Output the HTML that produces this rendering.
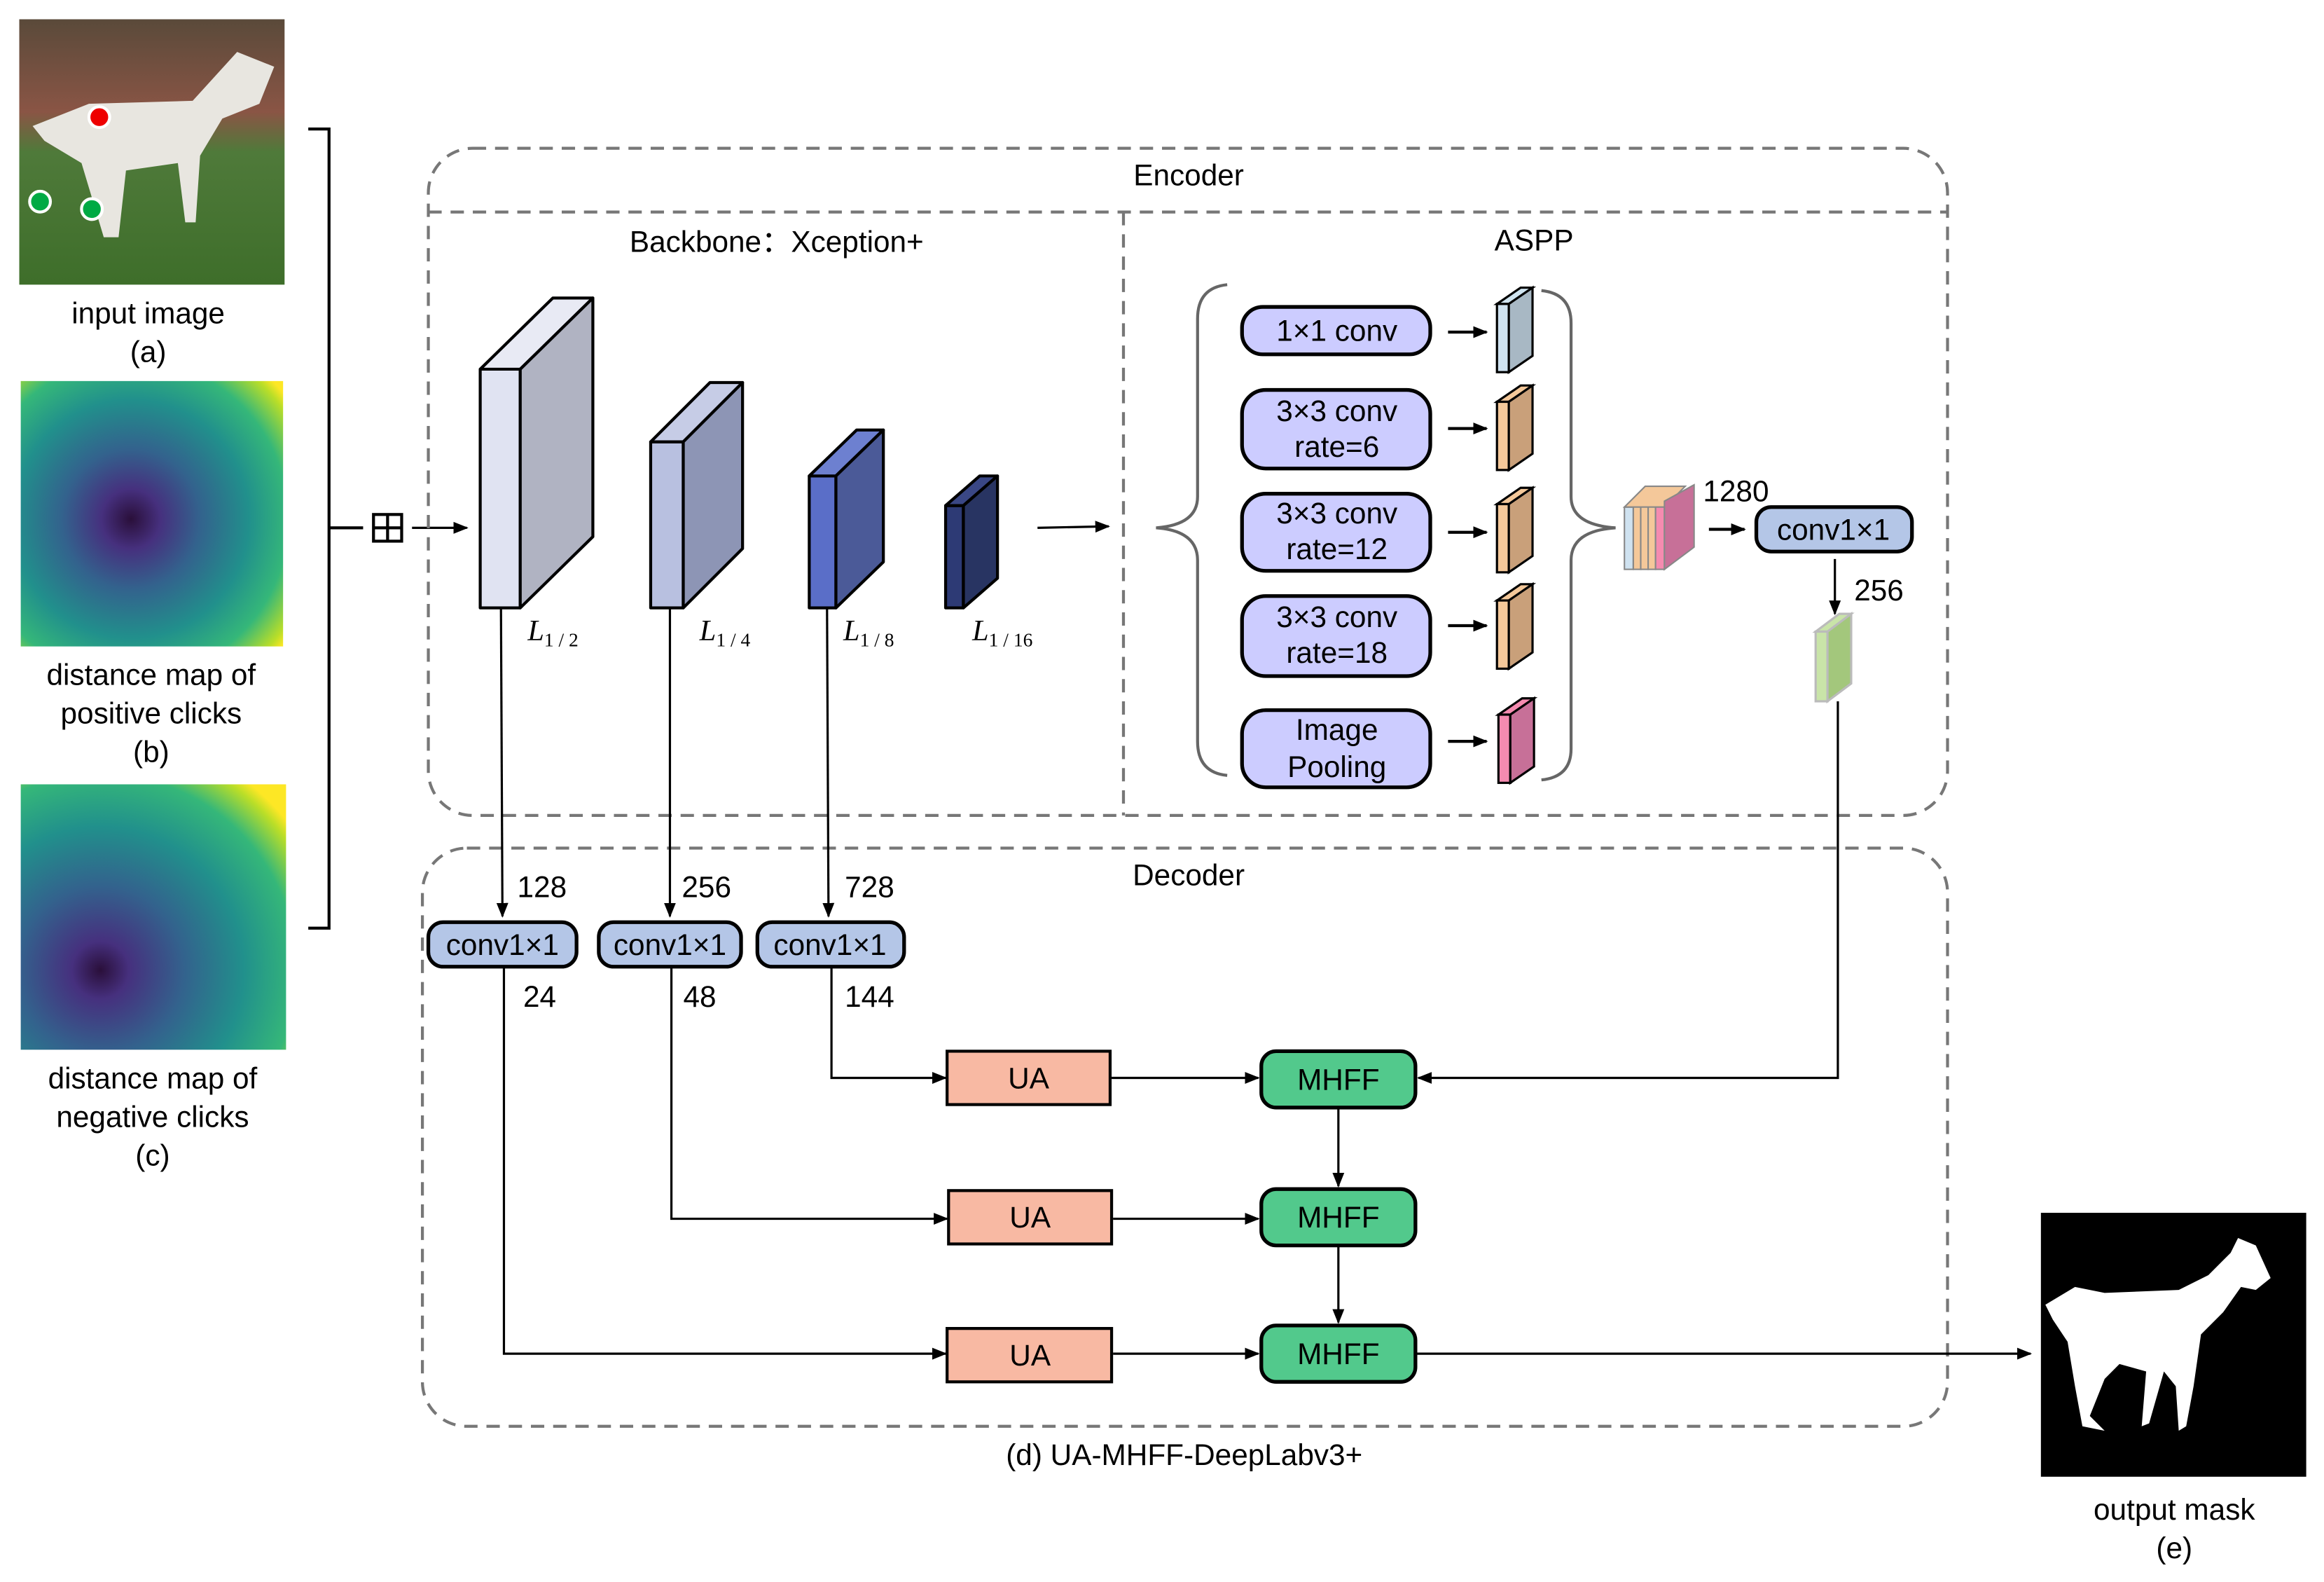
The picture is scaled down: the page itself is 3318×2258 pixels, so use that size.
<!DOCTYPE html>
<html><head><meta charset="utf-8"><style>html,body{margin:0;padding:0;background:#fff}svg{display:block}</style></head>
<body>
<svg xmlns="http://www.w3.org/2000/svg" width="3318" height="2258" viewBox="0 0 1568 1067" preserveAspectRatio="none" font-family="Liberation Sans, Arial, sans-serif" font-size="20">
<defs>
<marker id="ah" markerWidth="10" markerHeight="10" refX="9" refY="5" orient="auto" markerUnits="userSpaceOnUse"><path d="M0,1 L10,5 L0,9 z" fill="#000"/></marker>
<radialGradient id="vb" cx="0.42" cy="0.52" r="0.75">
<stop offset="0" stop-color="#2a0f3a"/><stop offset="0.15" stop-color="#46307e"/><stop offset="0.35" stop-color="#33628d"/><stop offset="0.6" stop-color="#21908c"/><stop offset="0.8" stop-color="#35b779"/><stop offset="0.95" stop-color="#bade28"/><stop offset="1" stop-color="#fde725"/></radialGradient>
<radialGradient id="vc" cx="0.3" cy="0.7" r="0.9">
<stop offset="0" stop-color="#2a0f3a"/><stop offset="0.12" stop-color="#46307e"/><stop offset="0.35" stop-color="#33628d"/><stop offset="0.6" stop-color="#21908c"/><stop offset="0.82" stop-color="#35b779"/><stop offset="0.95" stop-color="#bade28"/><stop offset="1" stop-color="#fde725"/></radialGradient>
<linearGradient id="ph" x1="0" y1="0" x2="0" y2="1"><stop offset="0" stop-color="#5a4a3a"/><stop offset="0.35" stop-color="#8a5545"/><stop offset="0.5" stop-color="#4f7a3a"/><stop offset="1" stop-color="#3e6e2a"/></linearGradient>
<clipPath id="cp"><rect x="13" y="13" width="179" height="179"/></clipPath>
</defs>
<!-- input image -->
<rect x="13" y="13" width="179" height="179" fill="url(#ph)"/>
<path clip-path="url(#cp)" d="M22,85 L60,70 L130,68 L160,35 L185,45 L175,70 L150,80 L135,105 L132,150 L125,150 L120,110 L85,115 L80,160 L70,160 L55,110 L30,95 Z" fill="#e8e6e0"/>
<circle cx="67" cy="79" r="7" fill="#e00" stroke="#fff" stroke-width="2"/>
<circle cx="27" cy="136" r="7" fill="#0a4" stroke="#fff" stroke-width="2"/>
<circle cx="62" cy="141" r="7" fill="#0a4" stroke="#fff" stroke-width="2"/>
<g text-anchor="middle">
<text x="100" y="218">input image</text><text x="100" y="244">(a)</text>
<rect x="14" y="257" width="177" height="179" fill="url(#vb)"/>
<text x="102" y="462">distance map of</text><text x="102" y="488">positive clicks</text><text x="102" y="514">(b)</text>
<rect x="14" y="529" width="179" height="179" fill="url(#vc)"/>
<text x="103" y="734">distance map of</text><text x="103" y="760">negative clicks</text><text x="103" y="786">(c)</text>
</g>
<!-- bracket -->
<path d="M208,87 H222 V626 H208 M222,356 H245" fill="none" stroke="#000" stroke-width="2"/>
<rect x="252" y="347" width="19" height="18" fill="none" stroke="#000" stroke-width="2"/>
<path d="M261.5,347 V365 M252,356 H271" stroke="#000" stroke-width="2"/>
<line x1="278" y1="356" x2="315" y2="356" stroke="#000" stroke-width="1.5" marker-end="url(#ah)"/>
<!-- encoder -->
<g fill="none" stroke="#777" stroke-width="2" stroke-dasharray="9,6">
<rect x="289" y="100" width="1025" height="450" rx="30"/>
<path d="M289,143 H1314 M758,143 V550"/>
<rect x="285" y="572" width="1029" height="390" rx="30"/>
</g>
<g text-anchor="middle">
<text x="802" y="125">Encoder</text>
<text x="524" y="170">Backbone：Xception+</text>
<text x="1035" y="169">ASPP</text>
<text x="802" y="597">Decoder</text>
<text x="799" y="988">(d) UA-MHFF-DeepLabv3+</text>
<text x="1467" y="1025">output mask</text><text x="1467" y="1051">(e)</text>
</g>
<!-- blocks -->
<g stroke="#000" stroke-width="2" stroke-linejoin="round">
<rect x="324" y="249" width="27" height="161" fill="#e0e3f2"/>
<path d="M324,249 L373,201 L400,201 L351,249 Z" fill="#e8eaf4"/>
<path d="M351,249 L400,201 L400,362 L351,410 Z" fill="#b0b3c2"/>
<rect x="439" y="298" width="22" height="112" fill="#b8c0e0"/>
<path d="M439,298 L479,258 L501,258 L461,298 Z" fill="#c6cce6"/>
<path d="M461,298 L501,258 L501,370 L461,410 Z" fill="#8d95b5"/>
<rect x="546" y="321" width="18" height="89" fill="#5a6ec8"/>
<path d="M546,321 L578,290 L596,290 L564,321 Z" fill="#6d80d0"/>
<path d="M564,321 L596,290 L596,379 L564,410 Z" fill="#4b5a98"/>
<rect x="638" y="341" width="12" height="69" fill="#2d3a75"/>
<path d="M638,341 L661,321 L673,321 L650,341 Z" fill="#3a4785"/>
<path d="M650,341 L673,321 L673,390 L650,410 Z" fill="#283462"/>
</g>
<g font-family="Liberation Serif, serif" font-style="italic" font-size="20">
<text x="356" y="432">L<tspan font-size="13" font-style="normal" dy="4">1 / 2</tspan></text>
<text x="472" y="432">L<tspan font-size="13" font-style="normal" dy="4">1 / 4</tspan></text>
<text x="569" y="432">L<tspan font-size="13" font-style="normal" dy="4">1 / 8</tspan></text>
<text x="656" y="432">L<tspan font-size="13" font-style="normal" dy="4">1 / 16</tspan></text>
</g>
<line x1="700" y1="356" x2="748" y2="355" stroke="#000" stroke-width="1.5" marker-end="url(#ah)"/>
<!-- braces -->
<path d="M828,192 Q808,194 808,215 V335 Q808,354 780,356 Q808,358 808,378 V500 Q808,521 828,523" fill="none" stroke="#666" stroke-width="2"/>
<path d="M1040,196 Q1060,198 1060,218 V335 Q1060,354 1090,356 Q1060,358 1060,378 V505 Q1060,524 1040,526" fill="none" stroke="#666" stroke-width="2"/>
<!-- ASPP boxes -->
<g fill="#ccccff" stroke="#000" stroke-width="2.5">
<rect x="838" y="207" width="127" height="32" rx="14"/>
<rect x="838" y="263" width="127" height="53" rx="16"/>
<rect x="838" y="333" width="127" height="52" rx="16"/>
<rect x="838" y="402" width="127" height="54" rx="16"/>
<rect x="838" y="479" width="127" height="52" rx="16"/>
</g>
<g text-anchor="middle">
<text x="902" y="230">1×1 conv</text>
<text x="902" y="284">3×3 conv</text><text x="902" y="308">rate=6</text>
<text x="902" y="353">3×3 conv</text><text x="902" y="377">rate=12</text>
<text x="902" y="423">3×3 conv</text><text x="902" y="447">rate=18</text>
<text x="902" y="499">Image</text><text x="902" y="524">Pooling</text>
</g>
<g stroke="#000" stroke-width="2" marker-end="url(#ah)">
<line x1="977" y1="224" x2="1003" y2="224"/>
<line x1="977" y1="289" x2="1003" y2="289"/>
<line x1="977" y1="359" x2="1003" y2="359"/>
<line x1="977" y1="422" x2="1003" y2="422"/>
<line x1="977" y1="500" x2="1003" y2="500"/>
<line x1="1153" y1="357" x2="1177" y2="357"/>
</g>
<!-- slabs -->
<g stroke="#000" stroke-width="1.5">
<path d="M1010,205 L1026,194 L1034,194 L1018,205 Z" fill="#d0e4f0"/><rect x="1010" y="205" width="8" height="46" fill="#cfe2f0"/><path d="M1018,205 L1034,194 L1034,240 L1018,251 Z" fill="#a8b8c4"/>
<path d="M1010,271 L1026,260 L1034,260 L1018,271 Z" fill="#f4c89a"/><rect x="1010" y="271" width="8" height="46" fill="#f4c89a"/><path d="M1018,271 L1034,260 L1034,306 L1018,317 Z" fill="#c9a07a"/>
<path d="M1010,340 L1026,329 L1034,329 L1018,340 Z" fill="#f4c89a"/><rect x="1010" y="340" width="8" height="46" fill="#f4c89a"/><path d="M1018,340 L1034,329 L1034,375 L1018,386 Z" fill="#c9a07a"/>
<path d="M1010,405 L1026,394 L1034,394 L1018,405 Z" fill="#f4c89a"/><rect x="1010" y="405" width="8" height="46" fill="#f4c89a"/><path d="M1018,405 L1034,394 L1034,440 L1018,451 Z" fill="#c9a07a"/>
<path d="M1011,482 L1027,471 L1035,471 L1019,482 Z" fill="#f58bb0"/><rect x="1011" y="482" width="8" height="46" fill="#f58bb0"/><path d="M1019,482 L1035,471 L1035,517 L1019,528 Z" fill="#c77098"/>
</g>
<g stroke="#888" stroke-width="1">
<rect x="1096" y="342" width="6" height="42" fill="#cfe2f0"/>
<rect x="1102" y="341" width="5" height="43" fill="#f4c89a"/>
<rect x="1107" y="340" width="5" height="44" fill="#f4c89a"/>
<rect x="1112" y="339" width="5" height="45" fill="#f4c89a"/>
<rect x="1117" y="338" width="6" height="46" fill="#f58bb0"/>
<path d="M1096,342 L1110,328 L1137,328 L1123,342 Z" fill="#f4c89a"/>
<path d="M1123,338 L1143,327 L1143,369 L1123,384 Z" fill="#c77098"/>
</g>
<text x="1149" y="338">1280</text>
<rect x="1185" y="342" width="105" height="30" rx="10" fill="#b4c6e7" stroke="#000" stroke-width="2.5"/>
<text x="1237" y="364" text-anchor="middle">conv1×1</text>
<line x1="1238" y1="377" x2="1238" y2="414" stroke="#000" stroke-width="1.5" marker-end="url(#ah)"/>
<text x="1251" y="405">256</text>
<g stroke="#bbb" stroke-width="1.5">
<path d="M1225,426 L1241,414 L1249,414 L1233,426 Z" fill="#c9e4a8"/><rect x="1225" y="426" width="8" height="47" fill="#c9e4a8"/><path d="M1233,426 L1249,414 L1249,461 L1233,473 Z" fill="#a3c77c"/>
</g>
<!-- decoder lines -->
<g fill="none" stroke="#000" stroke-width="1.5" marker-end="url(#ah)">
<line x1="338" y1="410" x2="339" y2="618"/>
<line x1="452" y1="410" x2="452" y2="618"/>
<line x1="558" y1="410" x2="559" y2="618"/>
<path d="M1240,473 V727 H957"/>
<path d="M340,652 V913 H638"/>
<path d="M453,652 V822 H639"/>
<path d="M561,652 V727 H638"/>
<line x1="750" y1="727" x2="849" y2="727"/>
<line x1="751" y1="822" x2="849" y2="822"/>
<line x1="751" y1="913" x2="849" y2="913"/>
<line x1="903" y1="747" x2="903" y2="800"/>
<line x1="903" y1="840" x2="903" y2="892"/>
<line x1="956" y1="913" x2="1370" y2="913"/>
</g>
<g fill="#b4c6e7" stroke="#000" stroke-width="2.5">
<rect x="289" y="622" width="100" height="30" rx="10"/>
<rect x="404" y="622" width="96" height="30" rx="10"/>
<rect x="511" y="622" width="99" height="30" rx="10"/>
</g>
<g text-anchor="middle">
<text x="339" y="644">conv1×1</text><text x="452" y="644">conv1×1</text><text x="560" y="644">conv1×1</text>
</g>
<text x="349" y="605">128</text><text x="460" y="605">256</text><text x="570" y="605">728</text>
<text x="353" y="679">24</text><text x="461" y="679">48</text><text x="570" y="679">144</text>
<g fill="#f8b9a3" stroke="#000" stroke-width="2">
<rect x="639" y="709" width="110" height="36"/>
<rect x="640" y="803" width="110" height="36"/>
<rect x="639" y="896" width="111" height="36"/>
</g>
<g fill="#52c98c" stroke="#000" stroke-width="2.5">
<rect x="851" y="709" width="104" height="38" rx="10"/>
<rect x="851" y="802" width="104" height="38" rx="10"/>
<rect x="851" y="894" width="104" height="38" rx="10"/>
</g>
<g text-anchor="middle">
<text x="694" y="734">UA</text><text x="695" y="828">UA</text><text x="695" y="921">UA</text>
<text x="903" y="735">MHFF</text><text x="903" y="828">MHFF</text><text x="903" y="920">MHFF</text>
</g>
<!-- output mask -->
<rect x="1377" y="818" width="179" height="178" fill="#000"/>
<path d="M1380,880 L1400,868 L1420,872 L1470,870 L1490,860 L1505,845 L1510,835 L1522,840 L1532,862 L1522,870 L1512,868 L1500,885 L1485,900 L1480,935 L1475,962 L1470,965 L1468,935 L1460,925 L1450,960 L1445,962 L1448,925 L1430,920 L1420,930 L1410,955 L1420,965 L1405,962 L1400,935 L1395,905 L1385,890 Z" fill="#fff"/>
</svg>
</body></html>
